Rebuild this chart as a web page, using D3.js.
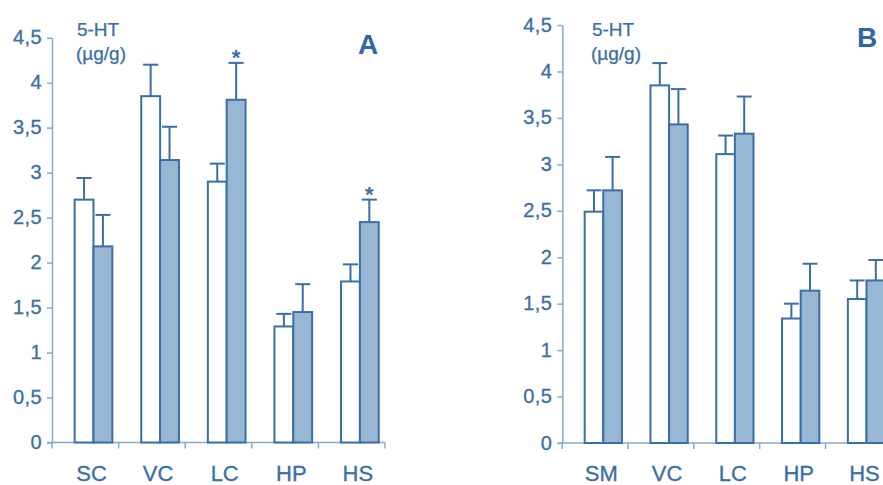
<!DOCTYPE html>
<html>
<head>
<meta charset="utf-8">
<script src="https://cdn.jsdelivr.net/npm/d3@7"></script>
<style>
  html, body { margin: 0; padding: 0; background: #fff; overflow: hidden; }
  text { font-family: "Liberation Sans", Arial, Helvetica, sans-serif; }
</style>
</head>
<body>
<div id="chart"></div>
<script>
// ---- data ----
var yTicks = [0, 0.5, 1, 1.5, 2, 2.5, 3, 3.5, 4, 4.5];

var catsA = ["SC", "VC", "LC", "HP", "HS"];
var ctrlA = [2.70, 3.85, 2.90, 1.29, 1.79];
var ctrlErrA = [0.24, 0.35, 0.20, 0.14, 0.19];
var trtA = [2.18, 3.14, 3.81, 1.45, 2.45];
var trtErrA = [0.35, 0.37, 0.41, 0.31, 0.25];
var sigA = [false, false, true, false, true];

var catsB = ["SM", "VC", "LC", "HP", "HS"];
var ctrlB = [2.49, 3.85, 3.11, 1.34, 1.55];
var ctrlErrB = [0.23, 0.24, 0.20, 0.16, 0.20];
var trtB = [2.72, 3.43, 3.33, 1.64, 1.75];
var trtErrB = [0.36, 0.38, 0.40, 0.29, 0.22];
var sigB = [false, false, false, false, false];

var width = 883, height = 485;
var textCol = "#3a6ea6";
var barCol = "#3a6ea6";
var axisCol = "#86aacd";
var fillCol = "#98b7d4";

var svg = d3.select("#chart").append("svg")
    .attr("width", width)
    .attr("height", height);
svg.append("rect").attr("width", width).attr("height", height).attr("fill", "#fff");

var fmt = function (d) { return String(d).replace(".", ","); };

function draw_panel(opt) {
    var g = svg.append("g");
    var x0 = d3.scaleBand().domain(opt.cats).range(opt.xr).paddingInner(0).paddingOuter(0);
    var bw = x0.bandwidth();
    var x1 = d3.scaleBand().domain([0, 1]).range([0.34 * bw, 0.34 * bw + 2 * 0.283 * bw]);
    var y = d3.scaleLinear().domain([0, 4.5]).range(opt.yr);
    var barW = x1.bandwidth();

    // y axis
    var yAxis = d3.axisLeft(y).tickValues(yTicks).tickFormat(fmt)
        .tickSize(5).tickSizeOuter(0).tickPadding(5);
    var ya = g.append("g").attr("transform", "translate(" + opt.xr[0] + ",0)").call(yAxis);
    ya.select(".domain").attr("stroke", axisCol).attr("stroke-width", 1.5);
    ya.selectAll(".tick line").attr("stroke", axisCol).attr("stroke-width", 1.5);
    ya.selectAll(".tick text")
        .attr("fill", textCol)
        .attr("stroke", textCol).attr("stroke-width", 0.3)
        .attr("font-size", 20)
        .attr("letter-spacing", 0.4)
        .attr("dy", "0.3em");

    // x axis (ticks at band edges)
    var y0 = y(0);
    g.append("line")
        .attr("x1", opt.xr[0] - 5).attr("x2", opt.xr[1])
        .attr("y1", y0).attr("y2", y0)
        .attr("stroke", axisCol).attr("stroke-width", 1.5);
    var edges = opt.cats.map(function (c) { return x0(c); }).concat([opt.xr[1]]);
    g.selectAll("line.xt").data(edges).enter().append("line")
        .attr("class", "xt")
        .attr("x1", function (d) { return d; }).attr("x2", function (d) { return d; })
        .attr("y1", y0).attr("y2", y0 + 6)
        .attr("stroke", axisCol).attr("stroke-width", 1.5);

    // x labels
    g.selectAll("text.xl").data(opt.cats).enter().append("text")
        .attr("class", "xl")
        .attr("x", function (d) { return x0(d) + x1.range()[0] + barW - 2; })
        .attr("y", 481)
        .attr("text-anchor", "middle")
        .attr("font-size", 22)
        .attr("fill", textCol)
        .attr("stroke", textCol).attr("stroke-width", 0.3)
        .text(function (d) { return d; });

    // bars
    var rows = opt.cats.map(function (c, i) {
        return [
            { c: c, s: 0, v: opt.ctrl[i], e: opt.ctrlErr[i], sig: false },
            { c: c, s: 1, v: opt.trt[i], e: opt.trtErr[i], sig: opt.sig[i] }
        ];
    });
    var flat = [].concat.apply([], rows);

    // error bars
    g.selectAll("line.eb").data(flat).enter().append("line")
        .attr("class", "eb")
        .attr("x1", function (d) { return x0(d.c) + x1(d.s) + barW / 2; })
        .attr("x2", function (d) { return x0(d.c) + x1(d.s) + barW / 2; })
        .attr("y1", function (d) { return y(d.v); })
        .attr("y2", function (d) { return y(d.v + d.e); })
        .attr("stroke", barCol).attr("stroke-width", 2);
    g.selectAll("line.cap").data(flat).enter().append("line")
        .attr("class", "cap")
        .attr("x1", function (d) { return x0(d.c) + x1(d.s) + barW / 2 - barW * 0.4; })
        .attr("x2", function (d) { return x0(d.c) + x1(d.s) + barW / 2 + barW * 0.4; })
        .attr("y1", function (d) { return y(d.v + d.e); })
        .attr("y2", function (d) { return y(d.v + d.e); })
        .attr("stroke", barCol).attr("stroke-width", 2);

    g.selectAll("rect.bar").data(flat).enter().append("rect")
        .attr("class", "bar")
        .attr("x", function (d) { return x0(d.c) + x1(d.s); })
        .attr("y", function (d) { return y(d.v); })
        .attr("width", barW)
        .attr("height", function (d) { return y0 - y(d.v); })
        .attr("fill", function (d) { return d.s ? fillCol : "#fff"; })
        .attr("stroke", barCol).attr("stroke-width", 2);

    // significance stars
    g.selectAll("text.star").data(flat.filter(function (d) { return d.sig; })).enter().append("text")
        .attr("class", "star")
        .attr("x", function (d) { return x0(d.c) + x1(d.s) + barW / 2; })
        .attr("y", function (d) { return y(d.v + d.e) + 2; })
        .attr("text-anchor", "middle")
        .attr("font-size", 22)
        .attr("font-weight", "bold")
        .attr("fill", textCol)
        .text("*");

    // titles
    g.append("text").attr("x", opt.tx).attr("y", 35.5)
        .attr("text-anchor", "middle").attr("font-size", 19).attr("fill", textCol)
        .attr("stroke", textCol).attr("stroke-width", 0.25)
        .text("5-HT");
    g.append("text").attr("x", opt.tx + 3).attr("y", 60)
        .attr("text-anchor", "middle").attr("font-size", 19).attr("fill", textCol)
        .attr("stroke", textCol).attr("stroke-width", 0.25)
        .text("(µg/g)");
    g.append("text").attr("x", opt.lx).attr("y", opt.ly)
        .attr("text-anchor", "middle").attr("font-size", 28).attr("font-weight", "bold")
        .attr("fill", "#2f66a3")
        .text(opt.letter);
}

draw_panel({
    cats: catsA, ctrl: ctrlA, ctrlErr: ctrlErrA, trt: trtA, trtErr: trtErrA, sig: sigA,
    xr: [52, 385], yr: [442.5, 37.7], tx: 98, lx: 368, ly: 54, letter: "A"
});
draw_panel({
    cats: catsB, ctrl: ctrlB, ctrlErr: ctrlErrB, trt: trtB, trtErr: trtErrB, sig: sigB,
    xr: [562.3, 891.3], yr: [443, 25], tx: 613, lx: 867, ly: 47, letter: "B"
});
</script>
</body>
</html>
